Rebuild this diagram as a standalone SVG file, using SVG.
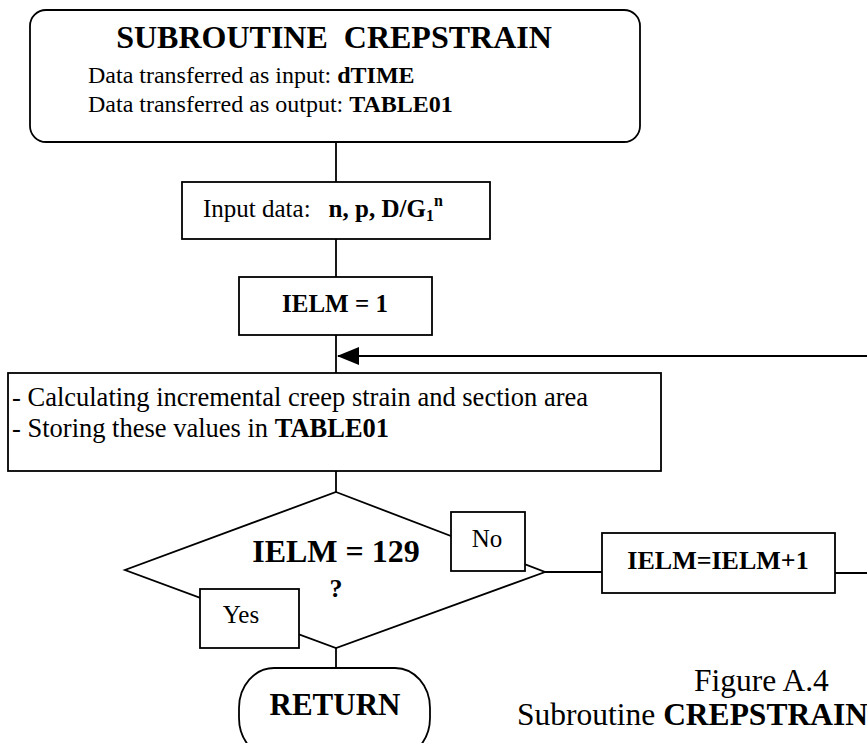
<svg xmlns="http://www.w3.org/2000/svg" width="867" height="743" viewBox="0 0 867 743">
<style>
  .shape { fill: #ffffff; stroke: #000000; stroke-width: 1.8; }
  .line { fill: none; stroke: #000000; stroke-width: 1.8; }
  text { font-family: "Liberation Serif", "Times New Roman", serif; fill: #000000; }
  .b { font-weight: bold; }
</style>
<defs>
  <marker id="arrow" markerUnits="userSpaceOnUse" markerWidth="22" markerHeight="18" refX="21" refY="9" orient="auto">
    <path d="M0,0 L22,9 L0,18 Z" fill="#000000"/>
  </marker>
</defs>
<rect width="867" height="743" fill="#ffffff"/>

<g id="connectors">
  <line class="line" x1="336" y1="142" x2="336" y2="182"/>
  <line class="line" x1="336" y1="239" x2="336" y2="277"/>
  <line class="line" x1="336" y1="335" x2="336" y2="373"/>
  <line class="line" x1="336" y1="471" x2="336" y2="492"/>
  <line class="line" x1="336" y1="648" x2="336" y2="668"/>
  <line class="line" x1="545" y1="572" x2="602" y2="572"/>
  <path class="line" d="M835,573 H885 V356 H338" marker-end="url(#arrow)"/>
</g>

<g id="start">
  <rect class="shape" x="30" y="10" width="610" height="132" rx="16" ry="16"/>
  <text class="b" x="334" y="48" font-size="32" text-anchor="middle">SUBROUTINE<tspan dx="8"> CREPSTRAIN</tspan></text>
  <text x="88" y="83" font-size="24">Data transferred as input: <tspan class="b">dTIME</tspan></text>
  <text x="88" y="112" font-size="24">Data transferred as output: <tspan class="b">TABLE01</tspan></text>
</g>

<g id="input">
  <rect class="shape" x="182" y="182" width="308" height="57"/>
  <text x="203" y="217" font-size="25">Input data:<tspan class="b" dx="18">n, p, D/G</tspan><tspan class="b" font-size="16" dy="4">1</tspan><tspan class="b" font-size="16" dy="-15">n</tspan></text>
</g>

<g id="init">
  <rect class="shape" x="239" y="277" width="193" height="58"/>
  <text class="b" x="335" y="312" font-size="25" text-anchor="middle">IELM = 1</text>
</g>

<g id="calc">
  <rect class="shape" x="8" y="373" width="653" height="98"/>
  <text x="12" y="406" font-size="26.5">- Calculating incremental creep strain and section area</text>
  <text x="12" y="437" font-size="26.5">- Storing these values in <tspan class="b">TABLE01</tspan></text>
</g>

<g id="decision">
  <polygon class="shape" points="336,492 545,572 336,648 125,570"/>
  <text class="b" x="336" y="562" font-size="32" text-anchor="middle">IELM = 129</text>
  <text class="b" x="336" y="597" font-size="26" text-anchor="middle">?</text>
</g>

<g id="label-no">
  <rect class="shape" x="451" y="512" width="74" height="59"/>
  <text x="487" y="547" font-size="25" text-anchor="middle">No</text>
</g>

<g id="label-yes">
  <rect class="shape" x="200" y="589" width="99" height="59"/>
  <text x="241" y="623" font-size="25" text-anchor="middle">Yes</text>
</g>

<g id="increment">
  <rect class="shape" x="602" y="533" width="233" height="60"/>
  <text class="b" x="718" y="569" font-size="26" text-anchor="middle">IELM=IELM+1</text>
</g>
<line class="line" x1="835" y1="573" x2="867" y2="573"/>

<g id="return">
  <rect class="shape" x="239" y="668" width="191" height="90" rx="35" ry="40"/>
  <text class="b" x="335" y="715" font-size="31" text-anchor="middle">RETURN</text>
</g>

<g id="caption">
  <text x="694" y="691" font-size="31.5">Figure A.4</text>
  <text x="517" y="725" font-size="31.5">Subroutine <tspan class="b">CREPSTRAIN</tspan></text>
</g>
</svg>
